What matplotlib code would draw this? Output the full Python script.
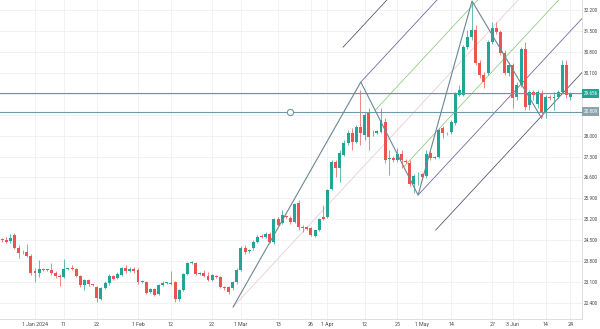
import numpy as np
import matplotlib
matplotlib.use("Agg")
import matplotlib.pyplot as plt

plt.rcParams["font.family"] = ["Roboto", "DejaVu Sans"]

# daily candles (price)
opens = [24.51, 24.51, 24.47, 24.68, 24.24, 24.09, 24.11, 23.97, 23.47, 23.40,
         23.52, 23.50, 23.50, 23.40, 23.30, 23.27, 23.54, 23.55, 23.54, 23.30,
         23.00, 23.17, 23.02, 22.94, 22.53, 22.90, 23.07, 23.30, 23.24, 23.34,
         23.57, 23.47, 23.54, 23.50, 23.10, 23.10, 22.77, 22.87, 22.70, 23.00,
         23.07, 23.07, 23.10, 22.53, 22.84, 23.37, 23.74, 23.74, 23.38, 23.40,
         23.30, 23.17, 23.30, 23.27, 22.94, 22.94, 22.90, 23.10, 23.50, 24.24,
         24.14, 24.24, 24.44, 24.64, 24.61, 24.71, 24.44, 25.21, 25.08, 25.30,
         25.24, 25.11, 25.75, 24.94, 24.93, 24.91, 24.64, 24.84, 25.28, 25.28,
         26.21, 27.12, 26.92, 27.35, 27.75, 28.09, 27.79, 28.29, 28.02, 28.76,
         28.07, 28.09, 28.12, 28.45, 27.22, 27.25, 27.18, 27.38, 27.15, 27.08,
         26.38, 26.70, 26.72, 26.65, 27.42, 27.26, 27.28, 28.25, 28.09, 28.12,
         28.42, 29.36, 29.36, 30.96, 31.30, 31.53, 30.43, 30.03, 30.09, 31.13,
         31.60, 31.46, 30.76, 30.09, 30.36, 29.29, 29.69, 30.90, 29.02, 29.46,
         29.05, 29.42, 28.76, 29.29, 29.27, 29.29, 29.46, 30.36, 29.30]
highs = [24.57, 24.61, 24.71, 24.75, 24.34, 24.17, 24.37, 24.04, 23.57, 23.84,
         23.57, 23.54, 23.74, 23.47, 23.37, 23.87, 23.57, 23.67, 23.57, 23.34,
         23.20, 23.20, 23.04, 22.97, 22.94, 23.14, 23.37, 23.34, 23.44, 23.60,
         23.67, 23.60, 23.60, 23.57, 23.17, 23.14, 22.90, 22.90, 23.04, 23.14,
         23.10, 23.47, 23.14, 22.87, 23.40, 23.77, 23.80, 23.77, 23.44, 23.50,
         23.44, 23.37, 23.34, 23.30, 22.97, 22.97, 23.14, 23.57, 24.30, 24.34,
         24.21, 24.51, 24.68, 24.71, 24.78, 24.78, 25.24, 25.28, 25.51, 25.36,
         25.31, 25.75, 25.85, 25.01, 24.98, 24.94, 24.84, 25.24, 25.68, 26.21,
         27.18, 27.18, 27.52, 27.85, 28.19, 28.25, 28.35, 29.52, 28.79, 28.92,
         28.19, 28.19, 28.92, 28.59, 27.52, 27.31, 27.58, 27.52, 27.22, 27.18,
         26.72, 26.78, 26.75, 27.52, 27.52, 27.31, 28.25, 28.32, 28.12, 28.52,
         29.46, 29.69, 31.03, 31.53, 32.47, 31.70, 30.53, 30.13, 31.20, 31.80,
         31.80, 31.53, 30.86, 30.46, 30.43, 29.79, 30.96, 31.13, 29.52, 29.52,
         29.52, 29.52, 29.36, 29.36, 29.46, 29.52, 30.53, 30.53, 29.46]
lows = [24.44, 24.41, 24.41, 24.21, 23.91, 24.04, 23.94, 23.34, 23.10, 23.27,
        23.47, 23.47, 23.34, 23.24, 22.97, 23.24, 23.50, 23.50, 23.27, 22.94,
        22.84, 22.97, 22.97, 22.43, 22.50, 22.87, 23.00, 23.17, 23.20, 23.30,
        23.40, 23.44, 23.40, 23.04, 23.07, 22.70, 22.74, 22.63, 22.67, 22.97,
        23.04, 23.00, 22.43, 22.47, 22.80, 23.34, 23.70, 23.34, 23.34, 23.27,
        23.14, 23.14, 23.24, 22.90, 22.84, 22.70, 22.84, 23.04, 23.47, 24.04,
        24.07, 24.17, 24.41, 24.57, 24.57, 24.41, 24.37, 24.98, 25.04, 25.24,
        25.04, 25.08, 24.84, 24.78, 24.84, 24.64, 24.61, 24.81, 25.18, 25.24,
        26.18, 26.62, 26.45, 27.31, 27.68, 27.52, 27.75, 27.68, 27.85, 27.52,
        27.99, 28.05, 28.09, 27.08, 26.68, 27.12, 27.12, 26.92, 27.08, 26.31,
        26.08, 26.35, 26.51, 26.58, 27.18, 27.22, 27.25, 27.92, 28.02, 28.05,
        28.35, 29.32, 29.32, 30.90, 31.20, 30.36, 29.93, 29.59, 30.03, 31.06,
        31.40, 30.70, 30.03, 30.00, 28.92, 29.19, 29.62, 28.86, 28.86, 29.19,
        28.92, 28.62, 28.59, 29.19, 28.86, 29.26, 29.42, 29.26, 29.19]
closes = [24.50, 24.44, 24.57, 24.24, 24.07, 24.11, 23.97, 23.40, 23.40, 23.54,
          23.50, 23.52, 23.40, 23.30, 23.28, 23.54, 23.55, 23.54, 23.30, 23.00,
          23.17, 23.04, 23.00, 22.57, 22.90, 23.07, 23.30, 23.20, 23.37, 23.57,
          23.47, 23.54, 23.47, 23.10, 23.12, 22.74, 22.87, 22.67, 23.00, 23.07,
          23.08, 23.04, 22.53, 22.84, 23.37, 23.74, 23.75, 23.37, 23.40, 23.30,
          23.17, 23.34, 23.27, 22.94, 22.90, 22.77, 23.10, 23.50, 24.24, 24.11,
          24.17, 24.44, 24.61, 24.61, 24.71, 24.44, 25.21, 25.01, 25.34, 25.28,
          25.11, 25.71, 24.94, 24.91, 24.88, 24.68, 24.84, 25.21, 25.21, 26.18,
          27.12, 26.92, 27.42, 27.75, 28.09, 27.79, 28.29, 28.09, 28.69, 27.95,
          28.09, 28.15, 28.52, 27.18, 27.25, 27.18, 27.38, 27.18, 27.12, 26.38,
          26.65, 26.72, 26.62, 27.38, 27.25, 27.28, 28.19, 28.09, 28.07, 28.45,
          29.39, 29.52, 30.96, 31.30, 31.53, 30.43, 30.03, 29.79, 31.13, 31.60,
          31.46, 30.76, 30.09, 30.36, 29.26, 29.69, 30.90, 28.96, 29.46, 29.36,
          29.46, 28.76, 29.29, 29.26, 29.29, 29.46, 30.36, 29.36, 29.42]

tick_labels = ["1 Jan 2024", "11", "22", "1 Feb", "12", "22", "1 Mar", "13", "26",
               "1 Apr", "12", "25", "1 May", "14", "27", "3 Jun", "14", "24"]
tick_bars = [8, 15, 23, 33, 41, 51, 58, 67, 75, 79, 88, 96, 102, 109, 119, 124, 132, 138]

price_ticks = [22.4, 23.1, 23.8, 24.5, 25.2, 25.9, 26.6, 27.3, 28.0,
               28.7, 29.4, 30.1, 30.8, 31.5, 32.2]

# drawing anchors (bar index, price)
fork_a = (56.1, 22.27)
fork_b = (87.1, 29.79)
fork_c = (101.0, 26.01)
zig_d = (114.1, 32.50)
zig_e = (131.0, 28.58)
fork_levels = [0.5, 1.0, 1.618]

hline_prices = [29.41, 28.80]
hline_texts = ["29.656", "28.809"]
marker_bar = 70

up_col = "#22a596"
down_col = "#ef5350"

fig = plt.figure(figsize=(6.0, 3.29), dpi=100)
ax = fig.add_axes([0.0, 10 / 329, 582 / 600, 319 / 329])

x = np.arange(len(closes))
o = np.array(opens); c = np.array(closes)
h = np.array(highs); l = np.array(lows)
cols = np.where(c >= o, up_col, down_col)

# grid
for p in price_ticks:
    ax.axhline(p, color="#eef0f4", lw=0.6, zorder=0)
for b in tick_bars:
    ax.axvline(b, color="#eef0f4", lw=0.6, zorder=0)

# candles
ax.vlines(x, l, h, colors=cols, lw=0.5, zorder=2)
body = np.maximum(np.abs(c - o), 0.025)
ax.bar(x, body, bottom=np.minimum(o, c), width=0.72, color=cols, lw=0, zorder=3)

# horizontal levels
ax.axhline(hline_prices[0], color="#55a39c", lw=0.8, zorder=4)
ax.axhline(hline_prices[1], color="#6f98a8", lw=0.8, zorder=4)
ax.plot([marker_bar], [hline_prices[1]], "o", ms=4.5, mfc="white", mec="#6f98a8",
        mew=0.8, zorder=6)

# pitchfork from A, B, C
A = np.array(fork_a); B = np.array(fork_b); C = np.array(fork_c)
M = (B + C) / 2
d = M - A
t = 6
ax.plot([A[0], A[0] + t * d[0]], [A[1], A[1] + t * d[1]], color="#ecccd2", lw=0.6, zorder=1)
lev_cols = {0.5: "#8cc97a", 1.0: "#6a5a9a", 1.618: "#4b4a6e"}
for k in fork_levels:
    for P in (M + k * (B - M), M + k * (C - M)):
        ax.plot([P[0], P[0] + t * d[0]], [P[1], P[1] + t * d[1]],
                color=lev_cols[k], lw=0.55, zorder=1)

# zigzag lines
zz = [fork_a, fork_b, fork_c, zig_d, zig_e]
ax.plot([p[0] for p in zz], [p[1] for p in zz], color="#6b8894", lw=0.8, zorder=5)

ax.set_xlim(-0.5, 140.8)
ax.set_ylim(21.866, 32.534)

ax.set_xticks(tick_bars)
ax.set_xticklabels(tick_labels, fontsize=3.8, color="#444")
ax.yaxis.tick_right()
ax.set_yticks(price_ticks)
# the two level labels sit over 29.400 and 28.700
ylabels = ["" if min(abs(p - q) for q in hline_prices) < 0.2 else f"{p:.3f}"
           for p in price_ticks]
ax.set_yticklabels(ylabels, fontsize=3.3, color="#444")
ax.tick_params(axis="x", length=0, pad=2.5)
ax.tick_params(axis="y", length=0, pad=1.0)
for s in ["top", "left"]:
    ax.spines[s].set_visible(False)
for s in ["right", "bottom"]:
    ax.spines[s].set_color("#d6d9de")
    ax.spines[s].set_linewidth(0.6)

# price labels on the scale
for p, txt, bc in zip(hline_prices, hline_texts, ["#22a394", "#8aa3ad"]):
    ax.annotate(txt, xy=(1.0, p), xycoords=("axes fraction", "data"),
                xytext=(1.0, 0), textcoords="offset points", va="center", ha="left",
                fontsize=3.3, color="white", annotation_clip=False, zorder=10,
                bbox=dict(boxstyle="square,pad=0.4", fc=bc, ec="none"))

fig.savefig("out.png", dpi=100, facecolor="white")
